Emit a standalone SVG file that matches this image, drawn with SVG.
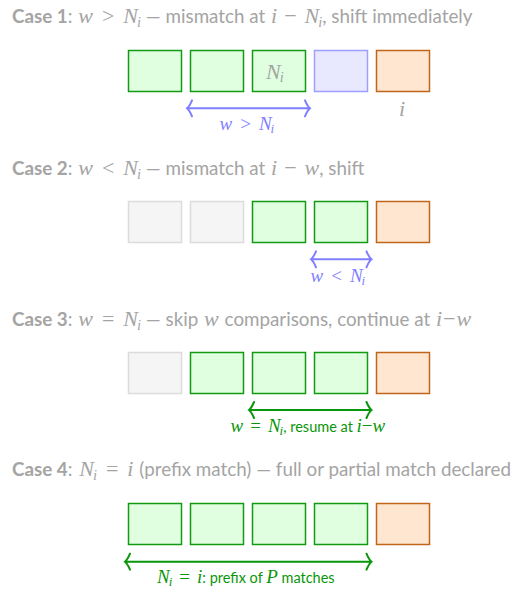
<svg xmlns="http://www.w3.org/2000/svg" width="514" height="591" viewBox="0 0 514 591">
<style>
.t{font-family:Lato,"Open Sans",sans-serif;font-size:18.5px;fill:#a4a4a4}
.tt{font-size:18.8px}
.b{font-weight:bold}
.m{font-family:"Liberation Serif","DejaVu Serif",serif;font-style:italic;font-size:22px}
.mu{font-family:"Liberation Serif","DejaVu Serif",serif;font-size:22px}
.sub{font-size:14.5px}
.lb{fill:#7f7fff}
.lg{fill:#0a960a;font-size:14.5px}
.lm{font-size:19px}
.ls{font-size:13px}
.g{fill:#e0ffe0;stroke:#129a12;stroke-width:1.5}
.u{fill:#e8e8ff;stroke:#9f9fff;stroke-width:1.5}
.o{fill:#ffe6d0;stroke:#c0661a;stroke-width:1.5}
.n{fill:#f5f5f5;stroke:#dcdcdc;stroke-width:1.5}
.ab{fill:none;stroke:#7f7fff;stroke-width:2;stroke-linecap:round}
.ag{fill:none;stroke:#0a960a;stroke-width:2;stroke-linecap:round}
</style>
<g id="titles">
<text class="t tt" x="12" y="23"><tspan class="b">Case 1</tspan>: <tspan class="m" dx="1">w</tspan><tspan class="mu" dx="9">&gt;</tspan><tspan class="m" dx="9">N</tspan><tspan class="m sub" dx="-1" dy="4">i</tspan><tspan dy="-4"> — mismatch at </tspan><tspan class="m" dx="1">i</tspan><tspan class="mu" dx="7">−</tspan><tspan class="m" dx="8">N</tspan><tspan class="m sub" dx="-1" dy="4">i</tspan><tspan dy="-4">, shift immediately</tspan></text>
<text class="t tt" x="12" y="175"><tspan class="b">Case 2</tspan>: <tspan class="m" dx="1">w</tspan><tspan class="mu" dx="9">&lt;</tspan><tspan class="m" dx="9">N</tspan><tspan class="m sub" dx="-1" dy="4">i</tspan><tspan dy="-4"> — mismatch at </tspan><tspan class="m" dx="1">i</tspan><tspan class="mu" dx="7">−</tspan><tspan class="m" dx="8">w</tspan>, shift</text>
<text class="t tt" x="12" y="326"><tspan class="b">Case 3</tspan>: <tspan class="m" dx="1">w</tspan><tspan class="mu" dx="9">=</tspan><tspan class="m" dx="9">N</tspan><tspan class="m sub" dx="-1" dy="4">i</tspan><tspan dy="-4"> — skip </tspan><tspan class="m" dx="1">w</tspan><tspan dx="1"> comparisons, continue at </tspan><tspan class="m" dx="1">i</tspan><tspan class="mu" dx="1">−</tspan><tspan class="m" dx="1">w</tspan></text>
<text class="t tt" x="12" y="476"><tspan class="b">Case 4</tspan>: <tspan class="m" dx="2">N</tspan><tspan class="m sub" dx="-1" dy="4">i</tspan><tspan class="mu" dx="9" dy="-4">=</tspan><tspan class="m" dx="9">i</tspan><tspan dx="1"> (prefix match) — full or partial match declared</tspan></text>
</g>
<g id="case1">
<rect class="g" x="128.5" y="50.5" width="53" height="41"/>
<rect class="g" x="190.5" y="50.5" width="53" height="41"/>
<rect class="g" x="252.5" y="50.5" width="53" height="41"/>
<rect class="u" x="314.5" y="50.5" width="53" height="41"/>
<rect class="o" x="376.5" y="50.5" width="53" height="41"/>
<text class="t" x="266" y="79"><tspan class="m" font-size="21">N</tspan><tspan class="m sub" dx="-1" dy="3">i</tspan></text>
<text class="t m" x="399" y="115.5" font-size="21">i</text>
</g>
<g id="case2">
<rect class="n" x="128.5" y="201.5" width="53" height="41"/>
<rect class="n" x="190.5" y="201.5" width="53" height="41"/>
<rect class="g" x="252.5" y="201.5" width="53" height="41"/>
<rect class="g" x="314.5" y="201.5" width="53" height="41"/>
<rect class="o" x="376.5" y="201.5" width="53" height="41"/>
</g>
<g id="case3">
<rect class="n" x="128.5" y="352.5" width="53" height="41"/>
<rect class="g" x="190.5" y="352.5" width="53" height="41"/>
<rect class="g" x="252.5" y="352.5" width="53" height="41"/>
<rect class="g" x="314.5" y="352.5" width="53" height="41"/>
<rect class="o" x="376.5" y="352.5" width="53" height="41"/>
</g>
<g id="case4">
<rect class="g" x="128.5" y="503.5" width="53" height="41"/>
<rect class="g" x="190.5" y="503.5" width="53" height="41"/>
<rect class="g" x="252.5" y="503.5" width="53" height="41"/>
<rect class="g" x="314.5" y="503.5" width="53" height="41"/>
<rect class="o" x="376.5" y="503.5" width="53" height="41"/>
</g>
<g id="connectors">
<path class="ab" d="M187,108.3H310M192,100.3Q189.5,106.3 187,108.3Q189.5,110.3 192,116.3M305,100.3Q307.5,106.3 310,108.3Q307.5,110.3 305,116.3"/>
<path class="ab" d="M311,259.3H371.5M316,251.3Q313.5,257.3 311,259.3Q313.5,261.3 316,267.3M366.5,251.3Q369,257.3 371.5,259.3Q369,261.3 366.5,267.3"/>
<path class="ag" d="M249,410H371.5M254,402Q251.5,408 249,410Q251.5,412 254,418M366.5,402Q369,408 371.5,410Q369,412 366.5,418"/>
<path class="ag" d="M125,561.7H371.5M130,553.7Q127.5,559.7 125,561.7Q127.5,563.7 130,569.7M366.5,553.7Q369,559.7 371.5,561.7Q369,563.7 366.5,569.7"/>
</g>
<g id="labels">
<text class="t lb" x="219.5" y="130"><tspan class="m lm">w</tspan><tspan class="mu lm" dx="8">&gt;</tspan><tspan class="m lm" dx="8">N</tspan><tspan class="m ls" dx="-1" dy="3">i</tspan></text>
<text class="t lb" x="310.5" y="281.5"><tspan class="m lm">w</tspan><tspan class="mu lm" dx="8">&lt;</tspan><tspan class="m lm" dx="8">N</tspan><tspan class="m ls" dx="-1" dy="3">i</tspan></text>
<text class="t lg" x="230.5" y="432"><tspan class="m lm">w</tspan><tspan class="mu lm" dx="7">=</tspan><tspan class="m lm" dx="7">N</tspan><tspan class="m ls" dx="-1" dy="3">i</tspan><tspan dy="-3">, resume at </tspan><tspan class="m lm">i</tspan><tspan class="mu lm">−</tspan><tspan class="m lm">w</tspan></text>
<text class="t lg" x="157" y="583"><tspan class="m lm">N</tspan><tspan class="m ls" dx="-1" dy="3">i</tspan><tspan class="mu lm" dx="7" dy="-3">=</tspan><tspan class="m lm" dx="7">i</tspan>: prefix of <tspan class="m lm">P</tspan> matches</text>
</g>
</svg>
